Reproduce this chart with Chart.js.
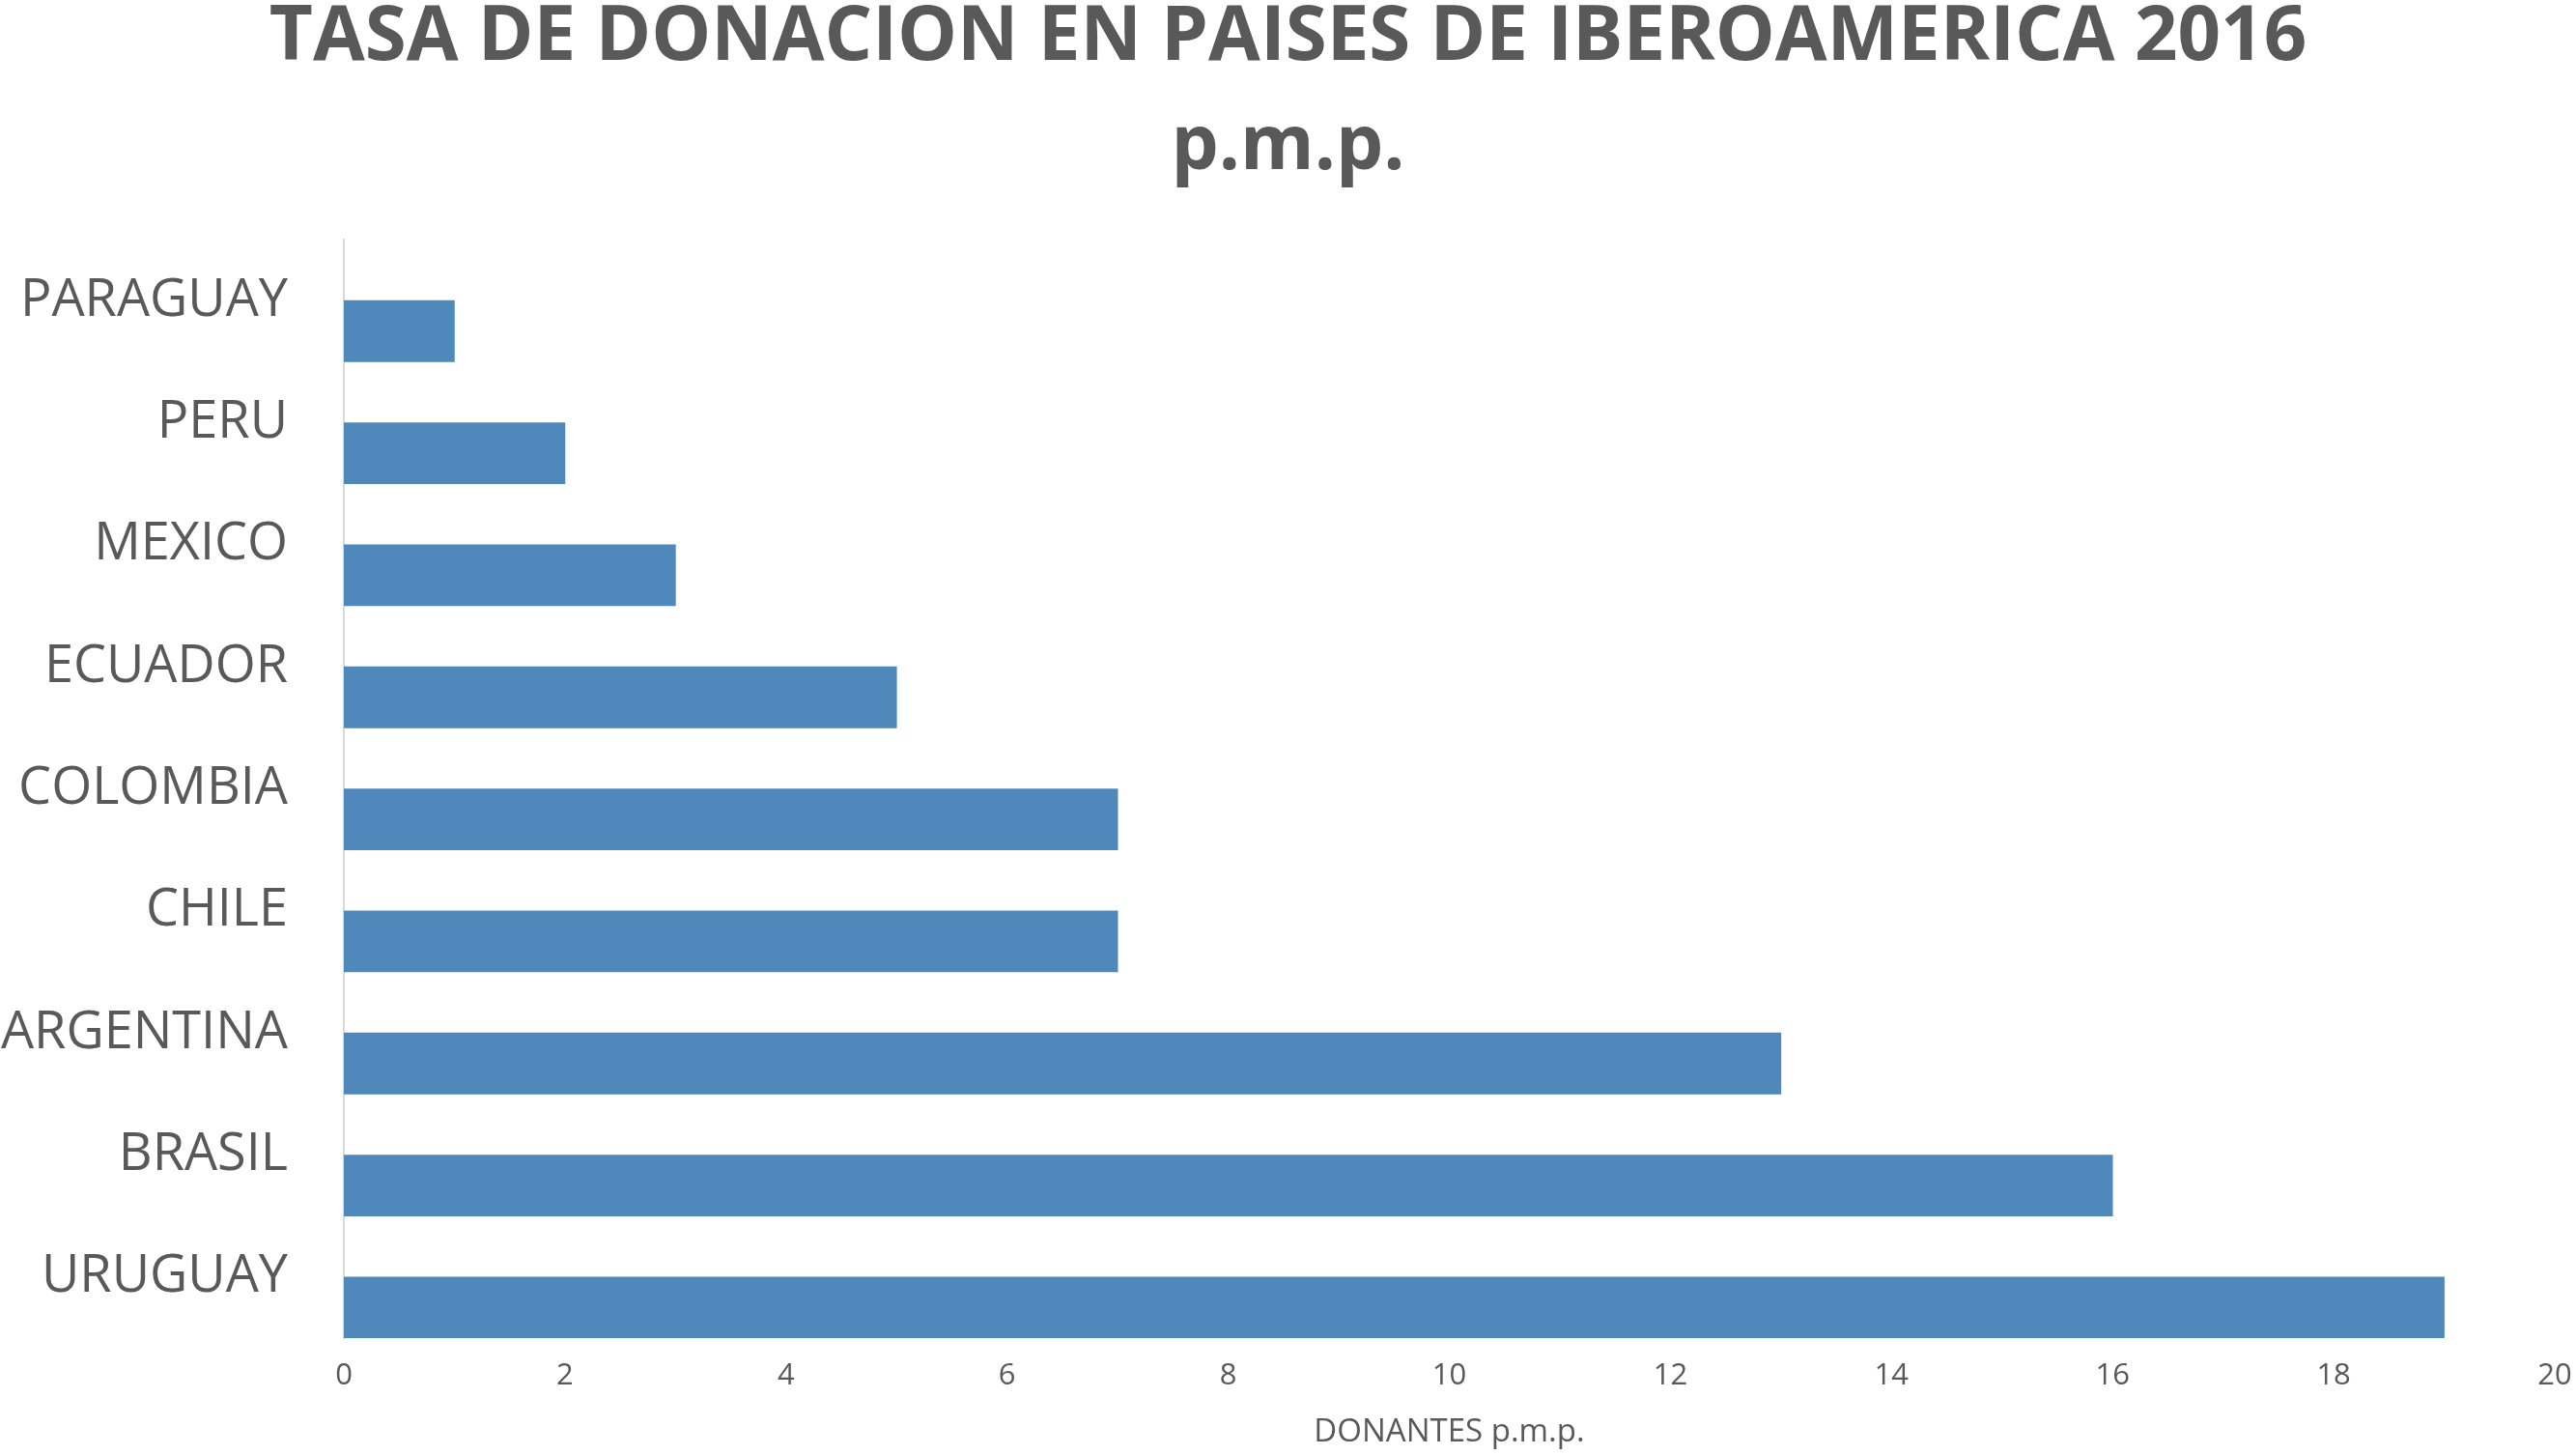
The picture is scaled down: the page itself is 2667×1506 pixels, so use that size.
<!DOCTYPE html>
<html lang="es">
<head>
<meta charset="UTF-8">
<title>Tasa de donacion en paises de Iberoamerica 2016</title>
<script src="https://cdn.jsdelivr.net/npm/chart.js"></script>
<style>
    html, body { margin: 0; padding: 0; background: #fff; overflow: hidden; }
    #wrap { position: absolute; left: 0; top: -17px; width: 2667px; height: 1523px; }
</style>
</head>
<body>
<div id="wrap"><canvas id="chart"></canvas></div>
<script>
const titleLines = ['TASA DE DONACION EN PAISES DE IBEROAMERICA 2016', 'p.m.p.'];
const countries = ['PARAGUAY', 'PERU', 'MEXICO', 'ECUADOR', 'COLOMBIA', 'CHILE', 'ARGENTINA', 'BRASIL', 'URUGUAY'];
const donors = [1, 2, 3, 5, 7, 7, 13, 16, 19];
const xTicks = [0, 2, 4, 6, 8, 10, 12, 14, 16, 18, 20];
const xTitle = 'DONANTES p.m.p.';

const grey = '#595959';
const font = '"Open Sans", sans-serif';

new Chart(document.getElementById('chart'), {
    type: 'bar',
    data: {
        labels: countries,
        datasets: [
            // empty series: keeps the bar in the lower half of each row like the original
            { label: '', data: countries.map(() => null), backgroundColor: 'rgba(0,0,0,0)' },
            { label: xTitle, data: donors, backgroundColor: '#4f89bc' }
        ]
    },
    options: {
        indexAxis: 'y',
        responsive: true,
        maintainAspectRatio: false,
        animation: false,
        layout: { padding: { left: 0, right: 0, top: 0, bottom: 4 } },
        datasets: { bar: { barPercentage: 1, categoryPercentage: 1 } },
        plugins: {
            legend: { display: false },
            tooltip: { enabled: false },
            title: {
                display: true,
                text: titleLines,
                color: grey,
                font: { family: font, size: 78, weight: 'bold', lineHeight: 113 / 78 },
                padding: { top: 0, bottom: 39 }
            }
        },
        scales: {
            x: {
                min: 0,
                max: 20,
                grid: { display: false, drawTicks: false },
                border: { display: false },
                afterBuildTicks: (scale) => { scale.ticks = xTicks.map(v => ({ value: v })); },
                afterFit: (scale) => {
                    scale.height = 117;
                    scale.paddingLeft = 0;
                    scale.paddingRight = 22;
                },
                ticks: {
                    autoSkip: false,
                    maxRotation: 0,
                    padding: 21,
                    color: grey,
                    font: { family: font, size: 31 }
                },
                title: {
                    display: true,
                    text: xTitle,
                    color: grey,
                    font: { family: font, size: 33 },
                    padding: { top: 19, bottom: 0 }
                }
            },
            y: {
                grid: { display: false, drawTicks: false },
                border: { display: true, color: '#d9d9d9', width: 2 },
                afterFit: (scale) => { scale.width = 356; },
                ticks: {
                    autoSkip: false,
                    padding: 58,
                    color: grey,
                    font: { family: font, size: 54 }
                }
            }
        }
    }
});
</script>
</body>
</html>
